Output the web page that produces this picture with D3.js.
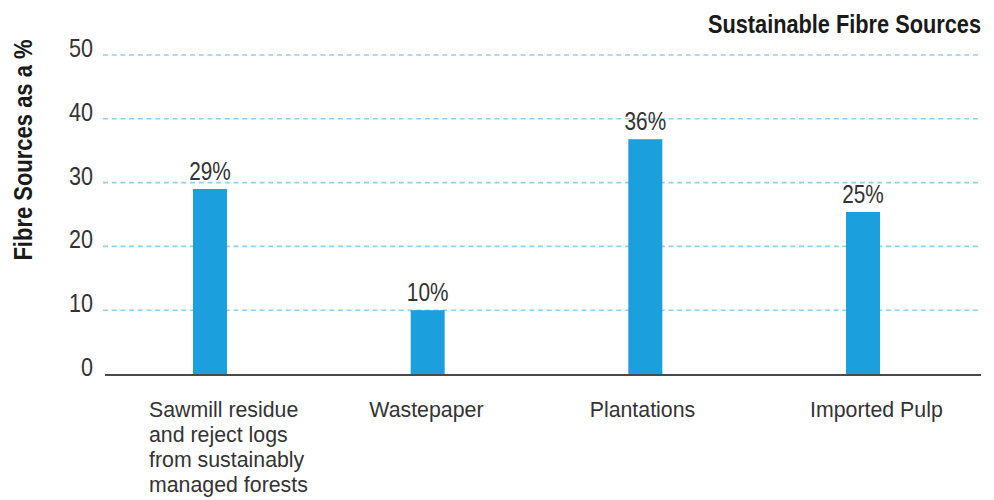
<!DOCTYPE html>
<html>
<head>
<meta charset="utf-8">
<script src="https://cdn.jsdelivr.net/npm/d3@7"></script>
<style>
  html, body { margin: 0; padding: 0; background: #fff; }
  svg { display: block; }
  text { font-family: "Liberation Sans", Arial, sans-serif; }
</style>
</head>
<body>
<svg id="chart" width="994" height="500"></svg>
<script>
const categories = [
  ["Sawmill residue", "and reject logs", "from sustainably", "managed forests"],
  ["Wastepaper"],
  ["Plantations"],
  ["Imported Pulp"]
];
const values = [29, 10, 36.8, 25.4];
const valueLabels = ["29%", "10%", "36%", "25%"];
const yTicks = [0, 10, 20, 30, 40, 50];
const title = "Sustainable Fibre Sources";
const yTitle = "Fibre Sources as a %";

const svg = d3.select("#chart");
const plotLeft = 103, plotRight = 981;

const idx = d3.range(values.length);
const x = d3.scalePoint().domain(idx).range([210, 863]);
const xLabel = d3.scalePoint().domain(idx).range([149, 810]);
const y = d3.scaleLinear().domain([0, 50]).range([374, 55]);
const barW = 34;

// narrow-text helper: Liberation Sans compressed horizontally
function ntext(parent, px, py, sx, rot) {
  return parent.append("text")
    .attr("transform", `translate(${px},${py})` + (rot ? ` rotate(${rot})` : "") + ` scale(${sx},1)`);
}

// gridlines
svg.append("g")
  .selectAll("line")
  .data(yTicks.filter(d => d > 0))
  .join("line")
  .attr("x1", plotLeft)
  .attr("x2", plotRight)
  .attr("y1", d => y(d))
  .attr("y2", d => y(d))
  .attr("stroke", "#93cfef")
  .attr("stroke-width", 1.6)
  .attr("stroke-dasharray", "5,3.7");

// y tick labels
const tickG = svg.append("g");
yTicks.forEach(d => {
  ntext(tickG, 93, y(d) + 2, 0.83)
    .attr("text-anchor", "end")
    .attr("font-size", 26)
    .attr("fill", "#333")
    .text(d);
});

// bars
svg.append("g")
  .selectAll("rect")
  .data(idx)
  .join("rect")
  .attr("x", i => x(i) - barW / 2)
  .attr("width", barW)
  .attr("y", i => y(values[i]))
  .attr("height", i => y(0) - y(values[i]))
  .attr("fill", "#1b9fdd");

// baseline axis
svg.append("line")
  .attr("x1", 105)
  .attr("x2", plotRight)
  .attr("y1", y(0) + 1)
  .attr("y2", y(0) + 1)
  .attr("stroke", "#4a4a4a")
  .attr("stroke-width", 2);

// value labels
const valG = svg.append("g");
idx.forEach(i => {
  ntext(valG, x(i), y(values[i]) - 9, 0.8)
    .attr("text-anchor", "middle")
    .attr("font-size", 26)
    .attr("fill", "#333")
    .text(valueLabels[i]);
});

// category labels (multi-line, left aligned)
const catG = svg.append("g");
idx.forEach(i => {
  const t = ntext(catG, xLabel(i), 417, 0.97)
    .attr("font-size", 22)
    .attr("fill", "#333");
  categories[i].forEach((line, k) => {
    t.append("tspan")
      .attr("x", 0)
      .attr("y", k * 25)
      .text(line);
  });
});

// title
ntext(svg, plotRight, 33, 0.87, 0)
  .attr("text-anchor", "end")
  .attr("font-size", 25)
  .attr("font-weight", "bold")
  .attr("fill", "#1a1a1a")
  .text(title);

// y axis title
ntext(svg, 32, 150, 0.88, -90)
  .attr("text-anchor", "middle")
  .attr("font-size", 25)
  .attr("font-weight", "bold")
  .attr("fill", "#1a1a1a")
  .text(yTitle);
</script>
</body>
</html>
